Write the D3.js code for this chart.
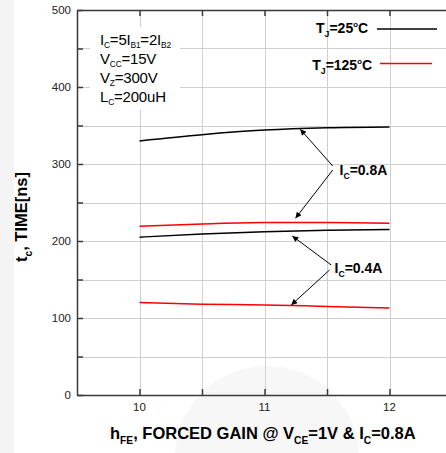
<!DOCTYPE html>
<html><head><meta charset="utf-8">
<script src="https://cdn.jsdelivr.net/npm/d3@7"></script>
<style>
html,body{margin:0;padding:0;background:#fff;}
svg{display:block;font-family:"Liberation Sans",Arial,Helvetica,sans-serif;}
</style></head>
<body><svg id="c" width="446" height="453"></svg>
<script>
// ---- data ----
const hfe = [10, 10.5, 11, 11.5, 12];
const tj25_08 = [330, 338, 344, 347, 348];
const tj125_08 = [219, 222, 224, 224, 223];
const tj25_04 = [205, 209, 212, 214, 215];
const tj125_04 = [120, 118, 117, 115, 113];
const xTicks = [10, 10.5, 11, 11.5, 12, 12.5];
const xTickLabels = [10, 11, 12];
const yTicks = [0, 50, 100, 150, 200, 250, 300, 350, 400, 450, 500];
const yTickLabels = [0, 100, 200, 300, 400, 500];
// annotation anchors in data units
const annot08 = {label: [11.6, 285.7], arrows: [[[11.546, 297.4], [11.286, 345.1]], [[11.546, 292.2], [11.248, 229.5]]], sub: "C", text: "=0.8A"};
const annot04 = {label: [11.56, 158.4], arrows: [[[11.534, 168.8], [11.222, 206.5]], [[11.52, 162.3], [11.214, 116.9]]], sub: "C", text: "=0.4A"};

const svg = d3.select("#c");
const x = d3.scaleLinear().domain([9.5, 12.5]).range([77, 452]);
const y = d3.scaleLinear().domain([0, 500]).range([395, 10]);

// faint background watermark
svg.append("rect").attr("x", 0).attr("y", 0).attr("width", 14).attr("height", 453).attr("fill", "#f4f4f4");
svg.append("circle").attr("cx", 267).attr("cy", 458).attr("r", 92).attr("fill", "#f7f7f7");

// grid
const grid = svg.append("g").attr("stroke", "#cfcfcf").attr("stroke-width", 1);
grid.selectAll("line.v").data(xTicks).join("line")
  .attr("x1", d => Math.round(x(d)) + 0.5).attr("x2", d => Math.round(x(d)) + 0.5)
  .attr("y1", y(500)).attr("y2", y(0));
grid.selectAll("line.h").data(yTicks.filter(d => d > 0 && d < 500)).join("line")
  .attr("class", "h")
  .attr("x1", x(9.5)).attr("x2", 452)
  .attr("y1", d => Math.round(y(d)) + 0.5).attr("y2", d => Math.round(y(d)) + 0.5);

// text box background
svg.append("rect").attr("x", 90).attr("y", 27).attr("width", 90).attr("height", 83).attr("fill", "#fff");

// axes
const axCol = "#3a3a3a";
const xb = svg.append("g").attr("transform", `translate(0,${y(0)})`)
  .call(d3.axisBottom(x).tickValues(xTicks).tickSizeInner(-6).tickSizeOuter(0).tickFormat(""));
const xt = svg.append("g").attr("transform", `translate(0,${y(500)})`)
  .call(d3.axisTop(x).tickValues(xTicks).tickSizeInner(-6).tickSizeOuter(0).tickFormat(""));
const yl = svg.append("g").attr("transform", `translate(${x(9.5)},0)`)
  .call(d3.axisLeft(y).tickValues(yTicks).tickSizeInner(-6).tickSizeOuter(0).tickFormat(""));
[xb, xt, yl].forEach(g => {
  g.select(".domain").attr("stroke", axCol).attr("stroke-width", 1.5);
  g.selectAll(".tick line").attr("stroke", axCol).attr("stroke-width", 1.5);
});

// tick labels
svg.append("g").selectAll("text").data(xTickLabels).join("text")
  .attr("x", d => x(d)).attr("y", 411).attr("text-anchor", "middle")
  .attr("font-size", 11.5).attr("fill", "#222").text(d => d);
svg.append("g").selectAll("text").data(yTickLabels).join("text")
  .attr("x", 71).attr("y", d => y(d) + 4).attr("text-anchor", "end")
  .attr("font-size", 11.5).attr("fill", "#222").text(d => d);

// curves
const line = d3.line().x(d => x(d[0])).y(d => y(d[1])).curve(d3.curveMonotoneX);
const series = [
  {v: tj25_08, c: "#000"}, {v: tj125_08, c: "#ff0000"},
  {v: tj25_04, c: "#000"}, {v: tj125_04, c: "#ff0000"}
];
svg.append("g").selectAll("path").data(series).join("path")
  .attr("d", s => line(hfe.map((h, i) => [h, s.v[i]])))
  .attr("fill", "none").attr("stroke", s => s.c).attr("stroke-width", 1.5);

// helper for text with sub/superscripts
function rich(g, xx, yy, parts, size, weight, subScale, subDrop) {
  const ss = subScale || 0.62;
  const sd = subDrop || 0.3;
  const t = g.append("text").attr("x", xx).attr("y", yy).attr("font-size", size)
    .attr("font-weight", weight).attr("fill", "#000");
  let shift = 0;
  parts.forEach(p => {
    const [str, kind] = p;
    let dy = 0, fs = size;
    if (kind === "sub") { fs = size * ss; dy = size * sd; }
    else if (kind === "sup") { fs = size * 0.55; dy = -size * 0.4; }
    t.append("tspan").attr("dy", dy - shift).attr("font-size", fs).text(str);
    shift = dy;
  });
  return t;
}

// text box
const tb = svg.append("g").attr("letter-spacing", -0.2);
rich(tb, 100, 45, [["I"], ["C", "sub"], ["=5I"], ["B1", "sub"], ["=2I"], ["B2", "sub"]], 15, "normal", 0.56, 0.2);
rich(tb, 100, 64, [["V"], ["CC", "sub"], ["=15V"]], 15, "normal", 0.56, 0.2);
rich(tb, 100, 83, [["V"], ["Z", "sub"], ["=300V"]], 15, "normal", 0.56, 0.2);
rich(tb, 100, 102, [["L"], ["C", "sub"], ["=200uH"]], 15, "normal", 0.56, 0.2);

// legend
const lg = svg.append("g");
rich(lg, 368, 33, [["T"], ["J", "sub"], ["=25"], ["o", "sup"], ["C"]], 14, "bold").attr("text-anchor", "end");
rich(lg, 372, 70, [["T"], ["J", "sub"], ["=125"], ["o", "sup"], ["C"]], 14, "bold").attr("text-anchor", "end");
lg.append("line").attr("x1", 377).attr("x2", 437).attr("y1", 29).attr("y2", 29).attr("stroke", "#000").attr("stroke-width", 1.5);
lg.append("line").attr("x1", 380).attr("x2", 432).attr("y1", 63.5).attr("y2", 63.5).attr("stroke", "#ff0000").attr("stroke-width", 1.5);

// annotations
svg.append("defs").append("marker").attr("id", "ah").attr("viewBox", "0 0 10 10")
  .attr("refX", 10).attr("refY", 5).attr("markerWidth", 9).attr("markerHeight", 6)
  .attr("markerUnits", "userSpaceOnUse").attr("orient", "auto")
  .append("path").attr("d", "M0,0L10,5L0,10Z").attr("fill", "#000");
const an = svg.append("g");
[annot08, annot04].forEach(a => {
  a.arrows.forEach(ar => {
    an.append("line").attr("x1", x(ar[0][0])).attr("y1", y(ar[0][1]))
      .attr("x2", x(ar[1][0])).attr("y2", y(ar[1][1]))
      .attr("stroke", "#000").attr("stroke-width", 1).attr("marker-end", "url(#ah)");
  });
  rich(an, x(a.label[0]), y(a.label[1]), [["I"], [a.sub, "sub"], [a.text]], 14, "bold");
});

// axis titles
rich(svg, 110, 439, [["h"], ["FE", "sub"], [", FORCED GAIN @ V"], ["CE", "sub"], ["=1V & I"], ["C", "sub"], ["=0.8A"]], 16.5, "bold");
const yt = svg.append("g").attr("transform", "translate(27,217) rotate(-90)");
rich(yt, 0, 0, [["t"], ["c", "sub"], [", TIME[ns]"]], 16.5, "bold").attr("text-anchor", "middle");
</script></body></html>
